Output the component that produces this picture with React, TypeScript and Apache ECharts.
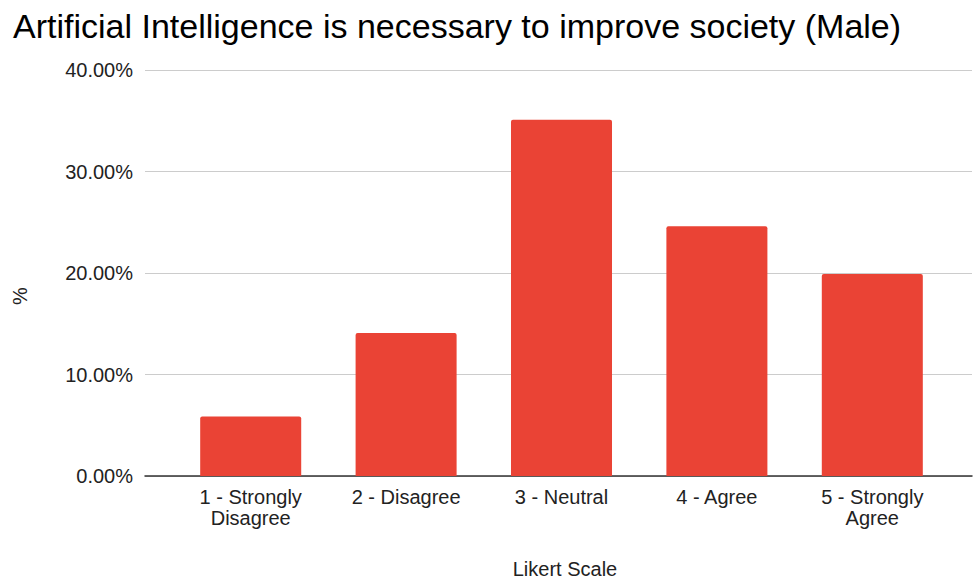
import React, { useEffect, useRef } from "react";
import * as echarts from "echarts";

const categories = ["1 - Strongly\nDisagree", "2 - Disagree", "3 - Neutral", "4 - Agree", "5 - Strongly\nAgree"];
const values = [0.0585, 0.141, 0.351, 0.246, 0.199];
const yTicks = { min: 0, max: 0.4, interval: 0.1 };
const titleText = "Artificial Intelligence is necessary to improve society (Male)";
const xTitle = "Likert Scale";
const yTitle = "%";

const FONT = "Liberation Sans, Arial, sans-serif";

export default function App() {
  const ref = useRef<HTMLDivElement>(null);
  useEffect(() => {
    if (!ref.current) return;
    document.body.style.margin = "0";
    const chart = echarts.init(ref.current, null, { renderer: "svg" });
    chart.setOption({
      animation: false,
      backgroundColor: "#ffffff",
      textStyle: { fontFamily: FONT },
      title: [
        {
          text: titleText,
          left: 8,
          top: 4,
          textStyle: { fontFamily: FONT, fontSize: 34, fontWeight: "normal", color: "#000000" },
        },
        {
          text: xTitle,
          left: 560,
          textAlign: "center",
          top: 554,
          textStyle: { fontFamily: FONT, fontSize: 20, fontWeight: "normal", color: "#222222" },
        },
      ],
      graphic: [
        {
          type: "text",
          x: 10,
          y: 305,
          rotation: Math.PI / 2,
          style: { text: yTitle, font: `20px ${FONT}`, fill: "#222222" },
        },
      ],
      grid: [
        { left: 145, right: 2, top: 70, height: 406 },
        { left: 173, right: 24, top: 70, height: 406 },
      ],
      xAxis: [
        {
          type: "value",
          gridIndex: 0,
          min: 0,
          max: 1,
          axisLine: { show: true, onZero: false, lineStyle: { color: "#333333", width: 1.5 } },
          axisTick: { show: false },
          axisLabel: { show: false },
          splitLine: { show: false },
        },
        {
          type: "category",
          gridIndex: 1,
          data: categories,
          axisLine: { show: false },
          axisTick: { show: false },
          axisLabel: {
            fontFamily: FONT,
            fontSize: 20,
            color: "#222222",
            margin: 10,
            lineHeight: 21,
            interval: 0,
          },
        },
      ],
      yAxis: [
        {
          type: "value",
          gridIndex: 0,
          min: yTicks.min,
          max: yTicks.max,
          interval: yTicks.interval,
          axisLine: { show: false },
          axisTick: { show: false },
          axisLabel: {
            fontFamily: FONT,
            fontSize: 20,
            color: "#222222",
            margin: 12,
            formatter: (v: number) => (v * 100).toFixed(2) + "%",
          },
          splitLine: { show: true, lineStyle: { color: "#cccccc", width: 1 } },
        },
        {
          type: "value",
          gridIndex: 1,
          min: yTicks.min,
          max: yTicks.max,
          interval: yTicks.interval,
          show: false,
          splitLine: { show: false },
        },
      ],
      series: [
        {
          type: "bar",
          xAxisIndex: 1,
          yAxisIndex: 1,
          data: values,
          barCategoryGap: "35%",
          itemStyle: { color: "#EA4335", borderRadius: [2, 2, 0, 0] },
        },
      ],
    });
    return () => chart.dispose();
  }, []);
  return <div ref={ref} style={{ width: 974, height: 579 }} />;
}
